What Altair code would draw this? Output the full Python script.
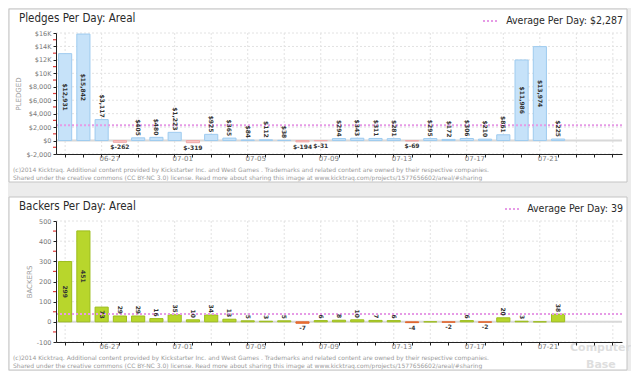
import altair as alt
import pandas as pd

# ---------------- data ----------------
days = ["06-24", "06-25", "06-26", "06-27", "06-28", "06-29", "06-30",
        "07-01", "07-02", "07-03", "07-04", "07-05", "07-06", "07-07",
        "07-08", "07-09", "07-10", "07-11", "07-12", "07-13", "07-14",
        "07-15", "07-16", "07-17", "07-18", "07-19", "07-20", "07-21",
        "07-22", "07-23", "07-24"]
label_days = ["06-27", "07-01", "07-05", "07-09", "07-13", "07-17", "07-21"]
grid_days = days[::2]

pledges = [12931, 15842, 3117, -262, 405, 480, 1223, -319, 925, 365, 84, 112,
           38, -194, -31, 294, 343, 311, 281, -69, 295, 172, 306, 210, 861,
           11986, 13974, 225]
backers = [299, 451, 73, 29, 29, 16, 35, 10, 34, 13, 5, 3, 5, -7, 6, 8, 10, 7,
           6, -4, 0, -2, 6, -2, 20, 3, 0, 38]

pledge_ticks = [-2000, 0, 2000, 4000, 6000, 8000, 10000, 12000, 14000, 16000]
pledge_minor = [-1000, 1000, 3000, 5000, 7000, 9000, 11000, 13000, 15000]
backer_ticks = [-100, 0, 100, 200, 300, 400, 500]
backer_minor = [-50, 50, 150, 250, 350, 450]

pledge_avg = 2287
backer_avg = 39

footer1 = ("(c)2014 Kicktraq. Additional content provided by Kickstarter Inc. and  West Games . "
           "Trademarks and related content are owned by their respective companies.")
footer2 = ("Shared under the creative commons (CC BY-NC 3.0) license. Read more about sharing "
           "this image at www.kicktraq.com/projects/1577656602/areal/#sharing")

W, H = 566, 121
TITLE_FONT = "DejaVu Sans Condensed"
BODY_FONT = "DejaVu Sans"


def panel(title, values, labels, ticks, minor, avg, avg_text, ytitle,
          pos_fill, pos_stroke, neg_fill, neg_stroke, threshold, label_expr,
          leg_x, watermark=False):
    df = pd.DataFrame({"day": days[:len(values)], "value": values, "label": labels})
    yscale = alt.Scale(domain=[ticks[0], ticks[-1]], nice=False)
    xscale = alt.Scale(domain=days, paddingInner=0.28, paddingOuter=0.14)
    lab_expr = ("indexof([" + ",".join("'%s'" % d for d in label_days) +
                "], datum.value) >= 0 ? datum.value : ''")

    def X(field):
        return alt.X(field, scale=xscale, title=None)

    def Y(field):
        return alt.Y(field, scale=yscale, title=ytitle)

    one = pd.DataFrame({"k": [0]})

    box = alt.Chart(one).mark_rect(fill="white", stroke="#c4c4c4", strokeWidth=1).encode(
        x=alt.value(-47), x2=alt.value(571), y=alt.value(-24), y2=alt.value(149))

    bars = alt.Chart(df).mark_bar(strokeWidth=1).encode(
        x=alt.X("day:N", scale=xscale, title=None,
                axis=alt.Axis(labelExpr=lab_expr, labelAngle=0, labelFontSize=7,
                              labelFont=BODY_FONT, labelColor="#7a7a7a",
                              tickSize=3, tickColor="#222", domainColor="#222",
                              labelPadding=1, grid=False, labelOverlap=False,
                              zindex=1)),
        y=alt.Y("value:Q", scale=yscale, title=ytitle,
                axis=alt.Axis(values=ticks, tickCount=len(ticks), labelExpr=label_expr,
                              labelFontSize=6.5, labelFont=BODY_FONT, labelColor="#7a7a7a",
                              tickSize=3, tickColor="#222", domainColor="#222",
                              labelPadding=2, grid=False, labelOverlap=False, zindex=1,
                              titleFontSize=7, titleFont=BODY_FONT,
                              titleFontWeight="normal", titleColor="#9a9a9a",
                              titlePadding=4)),
        fill=alt.condition(alt.datum.value < 0, alt.value(neg_fill), alt.value(pos_fill)),
        stroke=alt.condition(alt.datum.value < 0, alt.value(neg_stroke), alt.value(pos_stroke)),
    )

    ygrid = alt.Chart(pd.DataFrame({"t": ticks})).mark_rule(
        color="#e2e2e2", strokeDash=[2, 2], strokeWidth=1).encode(y=Y("t:Q"))

    xgrid = alt.Chart(pd.DataFrame({"d": grid_days})).mark_rule(
        color="#e2e2e2", strokeDash=[2, 2], strokeWidth=1).encode(x=X("d:N"))

    zero = alt.Chart(pd.DataFrame({"z": [0]})).mark_rule(
        color="#d8d8d8", strokeWidth=2).encode(y=Y("z:Q"))

    avg_line = alt.Chart(pd.DataFrame({"avg": [avg]})).mark_rule(
        color="#e69be6", strokeDash=[2, 2], strokeWidth=2).encode(y=Y("avg:Q"))

    minor_ticks = alt.Chart(pd.DataFrame({"m": minor})).mark_rule(
        color="#e03a3a", strokeWidth=1.2).encode(
        y=Y("m:Q"), x=alt.value(-3), x2=alt.value(0))

    txt = dict(font=BODY_FONT, fontSize=6, fontWeight="bold", color="#333")
    inside = alt.Chart(df).transform_filter(alt.datum.value >= threshold).transform_calculate(
        mid="datum.value / 2").mark_text(angle=90, align="center", baseline="middle", **txt).encode(
        x=X("day:N"), y=Y("mid:Q"), text="label:N")
    above = alt.Chart(df).transform_filter(
        (alt.datum.value > 0) & (alt.datum.value < threshold)).mark_text(
        angle=90, align="right", baseline="middle", dx=-2, **txt).encode(
        x=X("day:N"), y=Y("value:Q"), text="label:N")
    below = alt.Chart(df).transform_filter(alt.datum.value < 0).mark_text(
        angle=0, align="center", baseline="top", dy=2, **txt).encode(
        x=X("day:N"), y=Y("value:Q"), text="label:N")

    title_t = alt.Chart(one).mark_text(
        align="left", baseline="middle", font=TITLE_FONT, fontSize=11.5, color="#2a2a2a").encode(
        x=alt.value(-37), y=alt.value(-14), text=alt.value(title))

    leg_line = alt.Chart(one).mark_rule(color="#e69be6", strokeDash=[2, 2], strokeWidth=2).encode(
        x=alt.value(leg_x), x2=alt.value(leg_x + 14), y=alt.value(-12))
    leg_text = alt.Chart(one).mark_text(
        align="right", baseline="middle", font=TITLE_FONT, fontSize=10.5, color="#2a2a2a").encode(
        x=alt.value(567), y=alt.value(-12), text=alt.value(avg_text))

    foot1 = alt.Chart(one).mark_text(
        align="left", baseline="middle", font=BODY_FONT, fontSize=6, color="#9a9a9a").encode(
        x=alt.value(-43), y=alt.value(137), text=alt.value(footer1))
    foot2 = alt.Chart(one).mark_text(
        align="left", baseline="middle", font=BODY_FONT, fontSize=6, color="#9a9a9a").encode(
        x=alt.value(-43), y=alt.value(145), text=alt.value(footer2))

    layers = [box, ygrid, xgrid, zero, bars, avg_line, minor_ticks, inside, above, below,
              title_t, leg_line, leg_text, foot1, foot2]

    if watermark:
        wm = dict(font=BODY_FONT, fontWeight="bold", color="#d9d9d9", opacity=0.85,
                  align="left", baseline="alphabetic", fontSize=11)
        layers += [
            alt.Chart(one).mark_text(**wm).encode(
                x=alt.value(514), y=alt.value(130), text=alt.value("Computer")),
            alt.Chart(one).mark_text(**wm).encode(
                x=alt.value(530), y=alt.value(147), text=alt.value("Base")),
        ]

    return alt.layer(*layers).properties(width=W, height=H)


pledge_labels = ["${:,}".format(v) for v in pledges]
backer_labels = [str(v) for v in backers]

pledge_yexpr = ("abs(datum.value) >= 10000 ? '$' + (datum.value / 1000) + 'K' : "
                "'$' + (datum.value < 0 ? '-' : '') + format(abs(datum.value), ',')")
backer_yexpr = "(datum.value < 0 ? '-' : '') + format(abs(datum.value), 'd')"

top = panel("Pledges Per Day: Areal", pledges, pledge_labels, pledge_ticks, pledge_minor,
            pledge_avg, "Average Per Day: $2,287", "PLEDGED",
            "#c6e2f9", "#9ecbef", "#f8c6c6", "#f0a8a8", 4000, pledge_yexpr, 427)
bottom = panel("Backers Per Day: Areal", backers, backer_labels, backer_ticks, backer_minor,
               backer_avg, "Average Per Day: 39", "BACKERS",
               "#b8d62c", "#9cbd1c", "#f07a3a", "#e0622a", 50, backer_yexpr, 449,
               watermark=True)

chart = alt.vconcat(top, bottom, spacing=13).properties(
    padding=0, background="#ececec"
).configure_view(stroke=None).configure_axis(labelOverlap=False)

chart.save("out.html", embed_options={"renderer": "svg", "actions": False})
